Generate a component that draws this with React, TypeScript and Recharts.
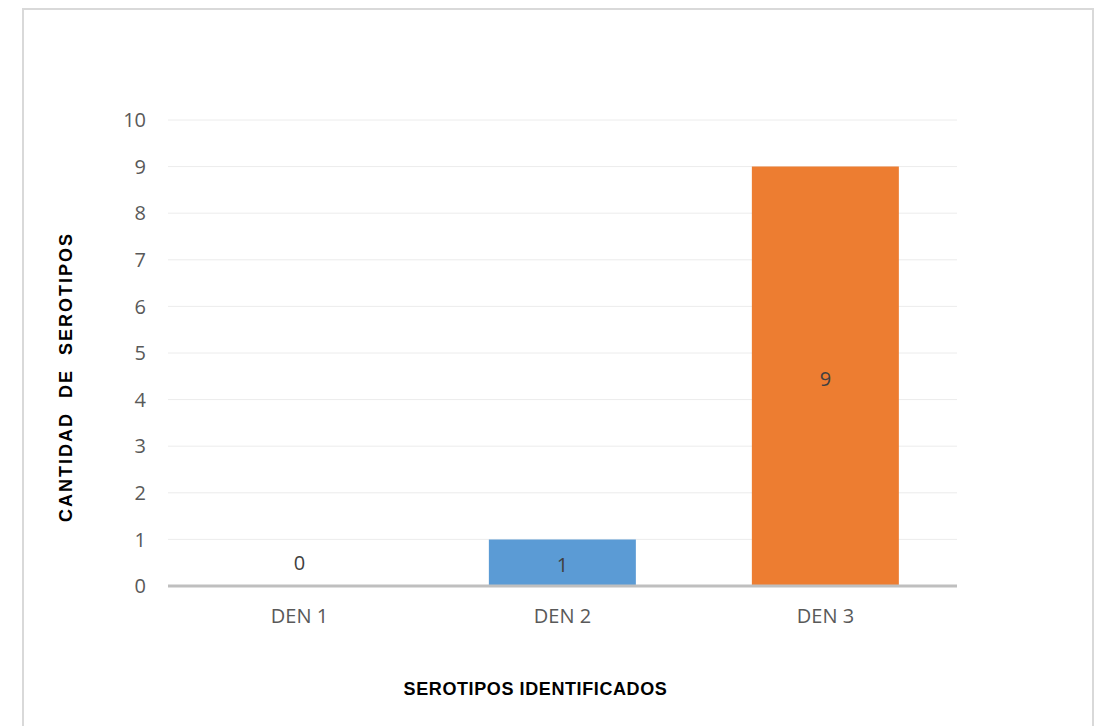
import { Bar, BarChart, CartesianGrid, Cell, Label, XAxis, YAxis } from 'recharts';

const categories = ['DEN 1', 'DEN 2', 'DEN 3'];
const counts = [0, 1, 9];
const barColors = ['#5B9BD5', '#5B9BD5', '#ED7D31'];
const yTicks = [0, 1, 2, 3, 4, 5, 6, 7, 8, 9, 10];

const chartData = categories.map((name, i) => ({ name, value: counts[i] }));

const tickFont = "'Open Sans', sans-serif";
const titleFont = "Arial, 'Liberation Sans', sans-serif";

function ValueLabel(props: any) {
  const { x, y, width, height, value, index } = props;
  const v = value ?? counts[index];
  const cx = Number(x) + Number(width) / 2;
  const bottom = Number(y) + Number(height);
  // the zero bar has no body, so its label sits just above the baseline
  const cy = Number(v) === 0 ? bottom - 24 : Number(y) + Number(height) / 2 + 2;
  return (
    <text
      x={cx}
      y={cy}
      textAnchor='middle'
      dominantBaseline='central'
      fill='#404040'
      fontSize={20}
      fontFamily={tickFont}
    >
      {String(v)}
    </text>
  );
}

export default function App() {
  return (
    <div
      style={{
        marginLeft: 14,
        width: 1068,
        height: 730,
        border: '2px solid #d9d9d9',
        background: '#fff',
      }}
    >
      <BarChart
        width={1068}
        height={720}
        data={chartData}
        margin={{ top: 110, right: 135, left: 104, bottom: 104 }}
        barCategoryGap='22%'
      >
        <CartesianGrid vertical={false} stroke='#ececec' strokeWidth={1} />
        <XAxis
          dataKey='name'
          axisLine={{ stroke: '#bfbfbf', strokeWidth: 3 }}
          tickLine={false}
          tickSize={0}
          tickMargin={23}
          height={40}
          tick={{ fill: '#595959', fontSize: 20, fontFamily: tickFont }}
        >
          <Label
            content={({ viewBox }: any) => (
              <text
                x={viewBox.x + viewBox.width / 2 - 27}
                y={viewBox.y + 103}
                textAnchor='middle'
                dominantBaseline='central'
                fontFamily={titleFont}
                fontWeight='bold'
                fontSize={18}
                letterSpacing={0.6}
                fill='#000'
              >
                SEROTIPOS IDENTIFICADOS
              </text>
            )}
          />
        </XAxis>
        <YAxis
          domain={[0, 10]}
          ticks={yTicks}
          interval={0}
          width={40}
          axisLine={false}
          tickLine={false}
          tickSize={0}
          tickMargin={22}
          tick={{ fill: '#595959', fontSize: 20, fontFamily: tickFont }}
        >
          <Label
            content={({ viewBox }: any) => {
              const lx = viewBox.x + viewBox.width - 102;
              const ly = viewBox.y + viewBox.height / 2 + 24;
              return (
                <text
                  x={lx}
                  y={ly}
                  transform={`rotate(-90 ${lx} ${ly})`}
                  textAnchor='middle'
                  dominantBaseline='central'
                  fontFamily={titleFont}
                  fontWeight='bold'
                  fontSize={18}
                  letterSpacing={2}
                  fill='#000'
                  style={{ whiteSpace: 'pre' }}
                >
                  {'CANTIDAD  DE  SEROTIPOS'}
                </text>
              );
            }}
          />
        </YAxis>
        <Bar dataKey='value' isAnimationActive={false} minPointSize={1} label={ValueLabel}>
          {chartData.map((d, i) => (
            <Cell key={d.name} fill={d.value === 0 ? 'none' : barColors[i]} />
          ))}
        </Bar>
      </BarChart>
    </div>
  );
}
